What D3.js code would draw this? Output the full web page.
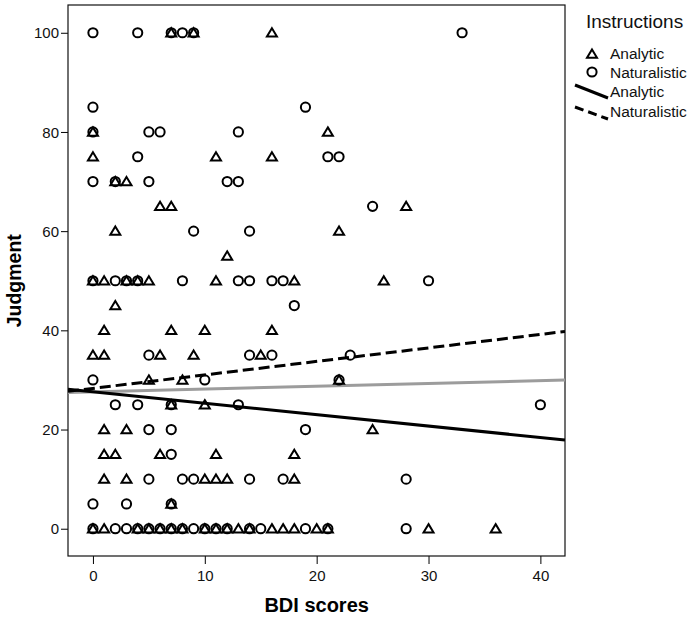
<!DOCTYPE html>
<html>
<head>
<meta charset="utf-8">
<script src="https://cdn.jsdelivr.net/npm/d3@7"></script>
<style>
  html, body { margin: 0; padding: 0; background: #fff; }
  svg { display: block; font-family: "Liberation Sans", Arial, sans-serif; }
</style>
</head>
<body>
<svg id="chart" width="693" height="618"></svg>
<script>
// ---- Data ----
// Analytic instructions (triangles)
const analyticBDI = [7, 9, 16, 0, 21, 0, 11, 16, 2, 3, 6, 7, 28, 2, 22, 12,
  0, 1, 3, 4, 5, 11, 18, 26, 2, 1, 7, 10, 16, 0, 1, 6, 9, 15, 5, 8, 22,
  7, 10, 1, 3, 25, 1, 2, 6, 11, 18, 1, 3, 10, 11, 12, 18, 7,
  0, 1, 4, 5, 6, 7, 8, 10, 11, 12, 13, 14, 16, 17, 18, 20, 21, 30, 36];
const analyticJudgment = [100, 100, 100, 80, 80, 75, 75, 75, 70, 70, 65, 65, 65, 60, 60, 55,
  50, 50, 50, 50, 50, 50, 50, 50, 45, 40, 40, 40, 40, 35, 35, 35, 35, 35, 30, 30, 30,
  25, 25, 20, 20, 20, 15, 15, 15, 15, 15, 10, 10, 10, 10, 10, 10, 5,
  0, 0, 0, 0, 0, 0, 0, 0, 0, 0, 0, 0, 0, 0, 0, 0, 0, 0, 0];
// Naturalistic instructions (circles)
const naturalBDI = [0, 4, 7, 8, 9, 33, 0, 19, 0, 5, 6, 13, 4, 21, 22, 0, 2, 5, 12, 13,
  25, 9, 14, 0, 2, 3, 4, 8, 13, 14, 16, 17, 30, 18, 5, 14, 16, 23, 0, 10, 22,
  2, 4, 7, 13, 40, 5, 7, 19, 7, 5, 8, 9, 14, 17, 28, 0, 3, 7,
  0, 2, 3, 4, 5, 6, 7, 8, 9, 10, 11, 12, 14, 15, 19, 21, 28];
const naturalJudgment = [100, 100, 100, 100, 100, 100, 85, 85, 80, 80, 80, 80, 75, 75, 75, 70, 70, 70, 70, 70,
  65, 60, 60, 50, 50, 50, 50, 50, 50, 50, 50, 50, 50, 45, 35, 35, 35, 35, 30, 30, 30,
  25, 25, 25, 25, 25, 20, 20, 20, 15, 10, 10, 10, 10, 10, 10, 5, 5, 5,
  0, 0, 0, 0, 0, 0, 0, 0, 0, 0, 0, 0, 0, 0, 0, 0, 0];

// Fit lines: [intercept, slope]
const fitAnalytic = [27.6, -0.23];
const fitNaturalistic = [28.3, 0.272];
const fitTotal = [27.6, 0.0565];

const xTicks = [0, 10, 20, 30, 40];
const yTicks = [0, 20, 40, 60, 80, 100];
const legendTitle = "Instructions";
const legendLabels = ["Analytic", "Naturalistic", "Analytic", "Naturalistic"];

// ---- Layout ----
const svg = d3.select("#chart");
const plot = { left: 68, right: 565, top: 5, bottom: 556 };

const x = d3.scaleLinear().domain([-2.23, 42.2]).range([plot.left, plot.right]);
const y = d3.scaleLinear().domain([-5.5, 105.6]).range([plot.bottom, plot.top]);

// clip
svg.append("defs").append("clipPath").attr("id", "clip")
  .append("rect")
  .attr("x", plot.left).attr("y", plot.top)
  .attr("width", plot.right - plot.left).attr("height", plot.bottom - plot.top);

// Axes
const xAxis = svg.append("g")
  .attr("transform", `translate(0,${plot.bottom})`)
  .call(d3.axisBottom(x).tickValues(xTicks).tickSize(8).tickPadding(6).tickFormat(d3.format("d")));
const yAxis = svg.append("g")
  .attr("transform", `translate(${plot.left},0)`)
  .call(d3.axisLeft(y).tickValues(yTicks).tickSize(7).tickPadding(2).tickFormat(d3.format("d")));
[xAxis, yAxis].forEach(a => {
  a.select(".domain").remove();
  a.selectAll(".tick line").attr("stroke", "#000").attr("stroke-width", 1);
  a.selectAll(".tick text").attr("fill", "#111").style("font-size", "15px")
    .style("font-family", '"Liberation Sans", Arial, sans-serif');
});
yAxis.selectAll(".tick text").attr("dy", "0.34em");

// Frame
svg.append("rect")
  .attr("x", plot.left).attr("y", plot.top)
  .attr("width", plot.right - plot.left).attr("height", plot.bottom - plot.top)
  .attr("fill", "none").attr("stroke", "#111").attr("stroke-width", 1.2);

// Axis titles
svg.append("text")
  .attr("x", x(20)).attr("y", 612)
  .attr("text-anchor", "middle")
  .style("font-size", "20px").style("font-weight", "bold")
  .text("BDI scores");
svg.append("text")
  .attr("transform", `translate(21,${y(50)}) rotate(-90)`)
  .attr("text-anchor", "middle")
  .style("font-size", "19.5px").style("font-weight", "bold")
  .text("Judgment");

// Fit lines
const gLines = svg.append("g").attr("clip-path", "url(#clip)");
const dom = x.domain();
function fitLine(fit) {
  return d3.line()(dom.map(v => [x(v), y(fit[0] + fit[1] * v)]));
}
gLines.append("path").attr("d", fitLine(fitTotal))
  .attr("fill", "none").attr("stroke", "#9c9c9c").attr("stroke-width", 3);
gLines.append("path").attr("d", fitLine(fitAnalytic))
  .attr("fill", "none").attr("stroke", "#000").attr("stroke-width", 3);
gLines.append("path").attr("d", fitLine(fitNaturalistic))
  .attr("fill", "none").attr("stroke", "#000").attr("stroke-width", 3)
  .attr("stroke-dasharray", "11,5");

// Points
const triPath = "M0,-4.6L5,3.7L-5,3.7Z";
const gPts = svg.append("g");
gPts.selectAll("path.tri")
  .data(analyticBDI.map((v, i) => [v, analyticJudgment[i]]))
  .join("path").attr("class", "tri")
  .attr("d", triPath)
  .attr("transform", d => `translate(${x(d[0])},${y(d[1])})`)
  .attr("fill", "none").attr("stroke", "#000").attr("stroke-width", 2)
  .attr("stroke-linejoin", "miter");
gPts.selectAll("circle.nat")
  .data(naturalBDI.map((v, i) => [v, naturalJudgment[i]]))
  .join("circle").attr("class", "nat")
  .attr("cx", d => x(d[0])).attr("cy", d => y(d[1]))
  .attr("r", 4.6)
  .attr("fill", "none").attr("stroke", "#000").attr("stroke-width", 2);

// Legend
const lg = svg.append("g");
lg.append("text").attr("x", 586).attr("y", 28)
  .style("font-size", "19px").attr("fill", "#111").text(legendTitle);
lg.append("path").attr("d", triPath).attr("transform", "translate(592,54)")
  .attr("fill", "none").attr("stroke", "#000").attr("stroke-width", 2);
lg.append("circle").attr("cx", 592).attr("cy", 72).attr("r", 4.6)
  .attr("fill", "none").attr("stroke", "#000").attr("stroke-width", 2);
lg.append("line").attr("x1", 575).attr("y1", 85).attr("x2", 608).attr("y2", 98)
  .attr("stroke", "#000").attr("stroke-width", 3);
lg.append("line").attr("x1", 575).attr("y1", 107).attr("x2", 608).attr("y2", 119)
  .attr("stroke", "#000").attr("stroke-width", 3).attr("stroke-dasharray", "9,5");
const lgY = [59, 78, 97, 117];
legendLabels.forEach((t, i) => {
  lg.append("text").attr("x", 610).attr("y", lgY[i])
    .style("font-size", "15.5px").attr("fill", "#111").text(t);
});
</script>
</body>
</html>
